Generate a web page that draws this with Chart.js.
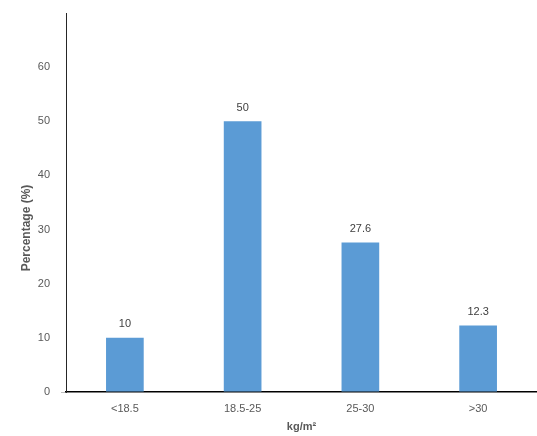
<!DOCTYPE html>
<html>
<head>
<meta charset="utf-8">
<script src="https://cdn.jsdelivr.net/npm/chart.js@4.4.0/dist/chart.umd.min.js"></script>
<style>
  html, body { margin: 0; padding: 0; background: #fff; }
  #wrap { width: 537px; height: 436px; }
</style>
</head>
<body>
<div id="wrap"><canvas id="myChart" width="537" height="436"></canvas></div>
<script>
// data
const categories = ['<18.5', '18.5-25', '25-30', '>30'];
const percentages = [10, 50, 27.6, 12.3];
const yTicks = [0, 10, 20, 30, 40, 50, 60];

const FONT = "'Liberation Sans', Arial, sans-serif";

// value labels above the bars + y axis title
const extras = {
  id: 'extras',
  afterDatasetsDraw(chart) {
    const ctx = chart.ctx;
    const meta = chart.getDatasetMeta(0);
    ctx.save();
    ctx.font = '11px ' + FONT;
    ctx.fillStyle = '#404040';
    ctx.textAlign = 'center';
    ctx.textBaseline = 'bottom';
    meta.data.forEach(function (bar, i) {
      ctx.fillText(String(percentages[i]), bar.x, bar.y - 8);
    });
    // y title
    ctx.font = 'bold 12px ' + FONT;
    ctx.fillStyle = '#595959';
    ctx.textBaseline = 'middle';
    ctx.translate(27, 228);
    ctx.rotate(-Math.PI / 2);
    ctx.fillText('Percentage (%)', 0, 0);
    ctx.restore();
  }
};

const config = {
  type: 'bar',
  data: {
    labels: categories,
    datasets: [{
      data: percentages,
      backgroundColor: '#5B9BD5',
      borderWidth: 0,
      categoryPercentage: 1,
      barPercentage: 0.32
    }]
  },
  options: {
    responsive: false,
    animation: false,
    layout: { padding: { top: 13, right: 0, left: 0, bottom: 0 } },
    plugins: {
      legend: { display: false },
      tooltip: { enabled: false }
    },
    scales: {
      x: {
        grid: { display: false, drawTicks: false },
        border: { display: true, color: '#000', width: 1.5 },
        ticks: { color: '#595959', font: { family: FONT, size: 11 }, padding: 10 },
        title: {
          display: true,
          text: 'kg/m²',
          color: '#595959',
          font: { family: FONT, size: 11, weight: 'bold' },
          padding: { top: 0, bottom: 2 }
        },
        afterFit(scale) { scale.height = 44; }
      },
      y: {
        min: 0,
        max: 70,
        afterBuildTicks(scale) {
          scale.ticks = yTicks.concat([70]).map(v => ({ value: v }));
        },
        grid: {
          drawOnChartArea: false,
          drawTicks: true,
          tickLength: 5,
          color: ctx => (ctx.tick && ctx.tick.value === 0) ? '#bfbfbf' : 'rgba(0,0,0,0)'
        },
        border: { display: true, color: '#262626', width: 1 },
        ticks: {
          color: '#595959',
          font: { family: FONT, size: 11 },
          padding: 11,
          callback: v => (yTicks.indexOf(v) >= 0 ? v : '')
        },
        afterFit(scale) {
          scale.width = 66;
          scale.paddingTop = 0;
          scale.paddingBottom = 0;
        }
      }
    }
  },
  plugins: [extras]
};

var myChart = new Chart(document.getElementById('myChart'), config);
</script>
</body>
</html>
